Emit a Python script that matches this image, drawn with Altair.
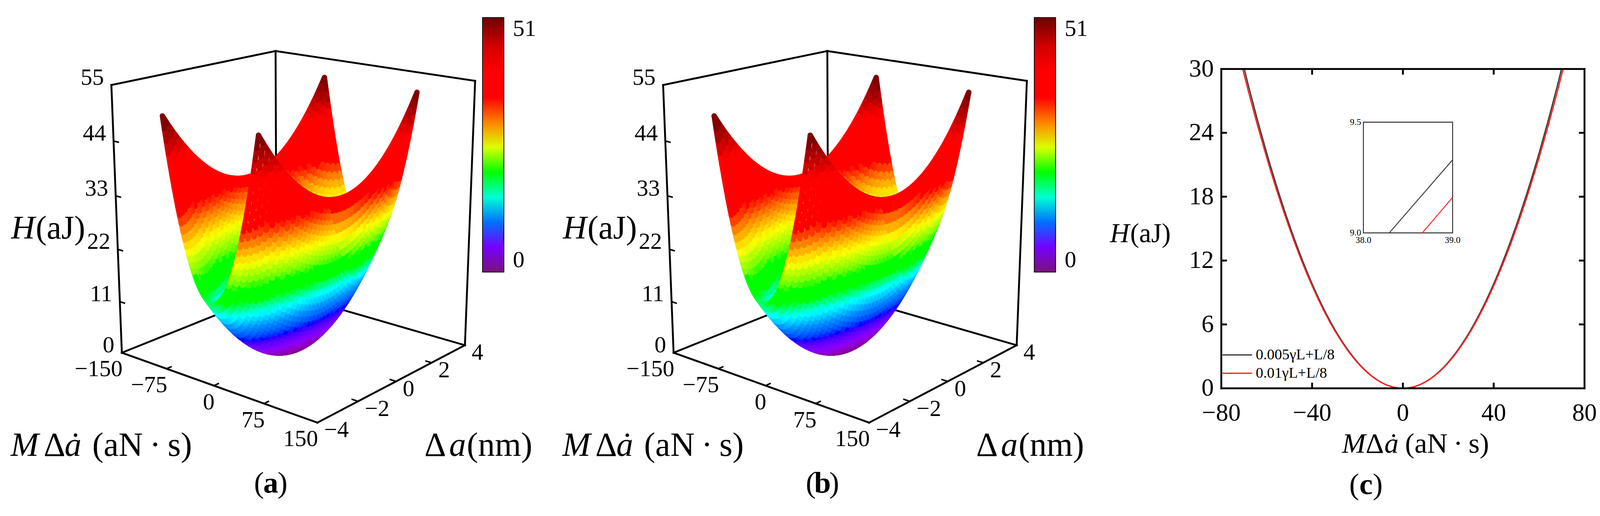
import altair as alt
import numpy as np
import pandas as pd

# ---------------- values ----------------
# (a) and (b): the H surface over MΔȧ (aN·s) and Δa (nm),
# H along MΔȧ at Δa = 0 and the rise of H along Δa at MΔȧ = 0
MDA_GRID = [-70, -67.5, -65, -62.5, -60, -57.5, -55, -52.5, -50, -47.5, -45, -42.5,
            -40, -37.5, -35, -32.5, -30, -27.5, -25, -22.5, -20, -17.5, -15, -12.5, -10, -7.5,
            -5, -2.5, 0, 2.5, 5, 7.5, 10, 12.5, 15, 17.5, 20, 22.5, 25, 27.5, 30, 32.5, 35,
            37.5, 40, 42.5, 45, 47.5, 50, 52.5, 55, 57.5, 60, 62.5, 65, 67.5, 70]
H_ALONG_MDA = [34.30, 31.89, 29.58, 27.34, 25.20, 23.14, 21.18, 19.29, 17.50, 15.79, 14.18, 12.64,
               11.20, 9.84, 8.58, 7.39, 6.30, 5.29, 4.38, 3.54, 2.80, 2.14, 1.58, 1.09, 0.70, 0.39,
               0.18, 0.04, 0.00, 0.04, 0.18, 0.39, 0.70, 1.09, 1.58, 2.14, 2.80, 3.54, 4.38, 5.29,
               6.30, 7.39, 8.58, 9.84, 11.20, 12.64, 14.18, 15.79, 17.50, 19.29, 21.18, 23.14,
               25.20, 27.34, 29.58, 31.89, 34.30]
DA_GRID = [-4.0, -3.8, -3.6, -3.4, -3.2, -3.0, -2.8, -2.6, -2.4, -2.2, -2.0, -1.8, -1.6, -1.4,
           -1.2, -1.0, -0.8, -0.6, -0.4, -0.2, 0.0, 0.2, 0.4, 0.6, 0.8, 1.0, 1.2, 1.4, 1.6, 1.8,
           2.0, 2.2, 2.4, 2.6, 2.8, 3.0, 3.2, 3.4, 3.6, 3.8, 4.0]
H_ALONG_DA = [16.64, 15.02, 13.48, 12.02, 10.65, 9.36, 8.15, 7.03, 5.99, 5.03, 4.16, 3.37, 2.66,
              2.04, 1.50, 1.04, 0.67, 0.37, 0.17, 0.04, 0.00, 0.04, 0.17, 0.37, 0.67, 1.04, 1.50,
              2.04, 2.66, 3.37, 4.16, 5.03, 5.99, 7.03, 8.15, 9.36, 10.65, 12.02, 13.48, 15.02, 16.64]
H_TICKS = [0, 11, 22, 33, 44, 55]
MDA_TICKS = [-150, -75, 0, 75, 150]
DA_TICKS = [-4, -2, 0, 2, 4]
COLORBAR_TICKS = [0, 51]

# (c): H against MΔȧ for the two cases, and the zoomed inset
SERIES = ["0.005γL+L/8", "0.01γL+L/8"]
MDA_C = [-72, -68, -64, -60, -56, -52, -48, -44, -40, -36, -32, -28, -24, -20, -16, -12, -8, -4,
         0, 4, 8, 12, 16, 20, 24, 28, 32, 36, 40, 44, 48, 52, 56, 60, 64, 68, 72]
H_C_BLACK = [31.83, 28.39, 25.15, 22.10, 19.26, 16.60, 14.15, 11.89, 9.82, 7.96, 6.29, 4.81,
             3.54, 2.46, 1.57, 0.88, 0.39, 0.10, 0.00, 0.10, 0.39, 0.88, 1.57, 2.46, 3.54,
             4.81, 6.29, 7.96, 9.82, 11.89, 14.15, 16.60, 19.26, 22.10, 25.15, 28.39, 31.83]
H_C_RED = [31.21, 27.84, 24.66, 21.67, 18.88, 16.28, 13.87, 11.65, 9.63, 7.80, 6.16, 4.72,
           3.47, 2.41, 1.54, 0.87, 0.39, 0.10, 0.00, 0.10, 0.39, 0.87, 1.54, 2.41, 3.47,
           4.72, 6.16, 7.80, 9.63, 11.65, 13.87, 16.28, 18.88, 21.67, 24.66, 27.84, 31.21]
C_X_TICKS = [-80, -40, 0, 40, 80]
C_Y_TICKS = [0, 6, 12, 18, 24, 30]
INSET_X_TICKS = [38.0, 39.0]
INSET_Y_TICKS = [9.0, 9.5]
INSET_BLACK_X = [38.29, 39.0]
INSET_BLACK_H = [9.0, 9.33]
INSET_RED_X = [38.66, 39.0]
INSET_RED_H = [9.0, 9.16]

# ---------------- styling / layout ----------------
SERIF = "Liberation Serif"
SERIES_COLORS = ["#3c3c3c", "#ff2020"]
CMAP_STOPS = [0, 0.08, 0.15, 0.22, 0.28, 0.31, 0.34, 0.41, 0.47, 0.51, 0.57, 0.62, 0.65, 0.84, 0.92, 1.0]
CMAP_COLORS = ["#7a137a", "#8a00ff", "#0000ff", "#0090ff", "#00ffff", "#00ff90", "#00ff00", "#00ff00",
               "#b4ff00", "#ffff00", "#ffa000", "#ff4000", "#ff0000", "#ff0000", "#b40000", "#6e0000"]

A_W, B_W, PANEL_H = 1472, 1778, 1305
C_W, C_H, C_TOP = 969, 852, 142
# where the inset frame sits inside (c), in the main axis units
INSET_AT_X = [-17.4, 21.9]
INSET_AT_H = [14.6, 25.0]

# camera for the 3-D box
AZ, EL = np.radians(40), np.radians(17)
DIST, ZOOM = 3600.0, 1.03
LX, LY, LZ = 333.5, 314.0, 720.0
CX, CY = 777.5, 544.5
ca, sa, ce, se = np.cos(AZ), np.sin(AZ), np.cos(EL), np.sin(EL)

ONE = pd.DataFrame({"k": [0]})


def project(ch, s):
    X = f"datum.x{s}*{LX / MDA_TICKS[-1]:.6f}"
    Y = f"datum.y{s}*{LY / DA_TICKS[-1]:.6f}"
    return ch.transform_calculate(**{
        f"r{s}": f"{X}*{ca:.6f}+{Y}*{sa:.6f}",
        f"q{s}": f"{X}*{sa:.6f}-{Y}*{ca:.6f}",
        f"z{s}": f"(datum.h{s}/{H_TICKS[-1]}-0.5)*{LZ}",
    }).transform_calculate(**{
        f"w{s}": f"datum.q{s}*{ce:.6f}+datum.z{s}*{se:.6f}",
        f"u{s}": f"datum.z{s}*{ce:.6f}-datum.q{s}*{se:.6f}",
    }).transform_calculate(**{
        f"px{s}": f"{ZOOM}*datum.r{s}*{DIST}/({DIST}-datum.w{s})",
        f"py{s}": f"{ZOOM}*datum.u{s}*{DIST}/({DIST}-datum.w{s})",
    })


def text(t, x, y, size, align="left", style="normal", weight="normal"):
    return alt.Chart(ONE).mark_text(
        text=t, font=SERIF, fontSize=size, align=align, fontStyle=style,
        fontWeight=weight, baseline="alphabetic", color="black",
    ).encode(x=alt.value(x), y=alt.value(y))


def fmt(v):
    return str(v).replace("-", "\u2212")


# surface segments along both grid directions
rows = []
for da, hd in zip(DA_GRID, H_ALONG_DA):
    for i in range(len(MDA_GRID) - 1):
        rows.append(dict(xa=MDA_GRID[i], ya=da, ha=H_ALONG_MDA[i] + hd,
                         xb=MDA_GRID[i + 1], yb=da, hb=H_ALONG_MDA[i + 1] + hd))
for m, hm in zip(MDA_GRID, H_ALONG_MDA):
    for j in range(len(DA_GRID) - 1):
        rows.append(dict(xa=m, ya=DA_GRID[j], ha=hm + H_ALONG_DA[j],
                         xb=m, yb=DA_GRID[j + 1], hb=hm + H_ALONG_DA[j + 1]))
seg_df = pd.DataFrame(rows).round(3)
seg_df["hm"] = ((seg_df.ha + seg_df.hb) / 2).round(3)

x0, x1 = MDA_TICKS[0], MDA_TICKS[-1]
y0, y1 = DA_TICKS[0], DA_TICKS[-1]
h0, h1 = H_TICKS[0], H_TICKS[-1]
edge_pts = [((x0, y0, h0), (x1, y0, h0)), ((x1, y0, h0), (x1, y1, h0)),
            ((x1, y1, h0), (x0, y1, h0)), ((x0, y1, h0), (x0, y0, h0)),
            ((x0, y0, h0), (x0, y0, h1)), ((x0, y1, h0), (x0, y1, h1)),
            ((x1, y1, h0), (x1, y1, h1)), ((x0, y0, h1), (x0, y1, h1)),
            ((x0, y1, h1), (x1, y1, h1))]
edge_df = pd.DataFrame([dict(xa=a[0], ya=a[1], ha=a[2], xb=b[0], yb=b[1], hb=b[2]) for a, b in edge_pts])

tl_x = 0.03 * (x1 - x0)
tl_y = 0.03 * (y1 - y0)
tick_df = pd.DataFrame(
    [dict(xa=x0, ya=y0, ha=t, xb=x0 + tl_x, yb=y0, hb=t) for t in H_TICKS[1:-1]]
    + [dict(xa=t, ya=y0, ha=h0, xb=t, yb=y0 + tl_y, hb=h0) for t in MDA_TICKS[1:-1]]
    + [dict(xa=x1, ya=t, ha=h0, xb=x1 - tl_x, yb=t, hb=h0) for t in DA_TICKS[1:-1]]
)

h_lab = pd.DataFrame(dict(xa=x0, ya=y0, ha=H_TICKS, label=[fmt(v) for v in H_TICKS]))
m_lab = pd.DataFrame(dict(xa=MDA_TICKS, ya=y0, ha=h0, label=[fmt(v) for v in MDA_TICKS]))
d_lab = pd.DataFrame(dict(xa=x1, ya=DA_TICKS, ha=h0, label=[fmt(v) for v in DA_TICKS]))

cscale = alt.Scale(domain=[s * COLORBAR_TICKS[-1] for s in CMAP_STOPS], range=CMAP_COLORS)


def surface_panel(width, letter):
    sx = alt.Scale(domain=[-CX, width - CX], nice=False, zero=False)
    sy = alt.Scale(domain=[CY - PANEL_H, CY], nice=False, zero=False)
    enc = dict(x=alt.X("pxa:Q", scale=sx, axis=None), y=alt.Y("pya:Q", scale=sy, axis=None),
               x2="pxb:Q", y2="pyb:Q")
    edges = project(project(alt.Chart(edge_df), "a"), "b").mark_rule(
        strokeWidth=5, strokeCap="square", color="black").encode(**enc)
    surf = project(project(alt.Chart(seg_df), "a"), "b").transform_calculate(
        depth="(datum.wa+datum.wb)/2"
    ).mark_rule(strokeWidth=14, strokeCap="round").encode(
        **enc,
        color=alt.Color("hm:Q", scale=cscale, legend=alt.Legend(
            orient="none", legendX=1279, legendY=5, direction="vertical",
            gradientLength=679, gradientThickness=57, values=COLORBAR_TICKS,
            labelFontSize=62, labelFont=SERIF, labelColor="black", labelOffset=24,
            gradientStrokeColor="black", gradientStrokeWidth=2, title=None, padding=0)),
        order=alt.Order("depth:Q"),
    )
    ticks = project(project(alt.Chart(tick_df), "a"), "b").mark_rule(
        strokeWidth=4, color="black").encode(**enc)
    tenc = dict(x=alt.X("pxa:Q", scale=sx, axis=None), y=alt.Y("pya:Q", scale=sy, axis=None),
                text="label:N")
    lab_style = dict(font=SERIF, fontSize=62, color="black", baseline="middle")
    hl = project(alt.Chart(h_lab), "a").mark_text(align="right", dx=-20, dy=-20, **lab_style).encode(**tenc)
    ml = project(alt.Chart(m_lab), "a").mark_text(align="right", dx=2, dy=44, **lab_style).encode(**tenc)
    dl = project(alt.Chart(d_lab), "a").mark_text(align="left", dx=18, dy=20, **lab_style).encode(**tenc)
    titles = [
        text("H", 85, 595, 88, align="right", style="italic"),
        text("(aJ)", 87, 595, 88),
        text("M", 20, 1174, 90, style="italic"),
        text("Δ", 108, 1174, 90),
        text("ȧ", 164, 1174, 90, style="italic"),
        text("(aN\u2009·\u2009s)", 238, 1174, 90),
        text("Δ", 1124, 1174, 90),
        text("a", 1190, 1174, 90, style="italic"),
        text("(nm)", 1237, 1174, 90),
        text("(", 696, 1272, 80, align="right"),
        text(letter, 714, 1272, 80, align="center", weight="bold"),
        text(")", 732, 1272, 80),
    ]
    return alt.layer(edges, surf, ticks, hl, ml, dl, *titles).properties(width=width, height=PANEL_H)


# ---------------- panel (c) ----------------
n = len(MDA_C)
curve_df = pd.DataFrame({"MDA": MDA_C * 2, "H": H_C_BLACK + H_C_RED,
                         "series": [SERIES[0]] * n + [SERIES[1]] * n})
xs = alt.Scale(domain=[C_X_TICKS[0], C_X_TICKS[-1]], nice=False, zero=False)
ys = alt.Scale(domain=[C_Y_TICKS[0], C_Y_TICKS[-1]], nice=False, zero=False)
col = alt.Color("series:N", scale=alt.Scale(domain=SERIES, range=SERIES_COLORS), legend=None)

curves = alt.Chart(curve_df).mark_line(strokeWidth=3.5, clip=True, interpolate="monotone").encode(
    x=alt.X("MDA:Q", scale=xs, axis=None),
    y=alt.Y("H:Q", scale=ys, axis=None),
    color=col,
)
xt = pd.DataFrame({"t": C_X_TICKS, "label": [fmt(v) for v in C_X_TICKS]})
yt = pd.DataFrame({"t": C_Y_TICKS, "label": [fmt(v) for v in C_Y_TICKS]})
xt_in = xt.iloc[1:-1]
yt_in = yt.iloc[1:-1]
TL = 15
rule = dict(strokeWidth=5, color="black")
tick_b = alt.Chart(xt_in).mark_rule(**rule).encode(
    x=alt.X("t:Q", scale=xs, axis=None), y=alt.value(C_H), y2=alt.value(C_H - TL))
tick_t = alt.Chart(xt_in).mark_rule(**rule).encode(
    x=alt.X("t:Q", scale=xs, axis=None), y=alt.value(0), y2=alt.value(TL))
tick_l = alt.Chart(yt_in).mark_rule(**rule).encode(
    y=alt.Y("t:Q", scale=ys, axis=None), x=alt.value(0), x2=alt.value(TL))
tick_r = alt.Chart(yt_in).mark_rule(**rule).encode(
    y=alt.Y("t:Q", scale=ys, axis=None), x=alt.value(C_W), x2=alt.value(C_W - TL))
frame = [
    alt.Chart(ONE).mark_rule(strokeCap="square", **rule).encode(
        x=alt.value(0), x2=alt.value(C_W), y=alt.value(0)),
    alt.Chart(ONE).mark_rule(strokeCap="square", **rule).encode(
        x=alt.value(0), x2=alt.value(C_W), y=alt.value(C_H)),
    alt.Chart(ONE).mark_rule(strokeCap="square", **rule).encode(
        x=alt.value(0), y=alt.value(0), y2=alt.value(C_H)),
    alt.Chart(ONE).mark_rule(strokeCap="square", **rule).encode(
        x=alt.value(C_W), y=alt.value(0), y2=alt.value(C_H)),
]
lab_c = dict(font=SERIF, fontSize=66, color="black")
x_labels = alt.Chart(xt).mark_text(align="center", baseline="top", **lab_c).encode(
    x=alt.X("t:Q", scale=xs, axis=None), y=alt.value(C_H + 34), text="label:N")
y_labels = alt.Chart(yt).mark_text(align="right", baseline="middle", **lab_c).encode(
    y=alt.Y("t:Q", scale=ys, axis=None), x=alt.value(-20), text="label:N")


# inset, placed inside the main frame
def inset_map(field, lims, at):
    return (f"({at[0]})+(datum.{field}-({lims[0]}))/(({lims[-1]})-({lims[0]}))"
            f"*(({at[1]})-({at[0]}))")


def inset_chart(df):
    return alt.Chart(df).transform_calculate(
        mx=inset_map("X", INSET_X_TICKS, INSET_AT_X), mh=inset_map("H", INSET_Y_TICKS, INSET_AT_H))


inset_box = pd.DataFrame({"X": [INSET_X_TICKS[0]], "H": [INSET_Y_TICKS[0]],
                          "X2": [INSET_X_TICKS[-1]], "H2": [INSET_Y_TICKS[-1]]})
inset_frame = inset_chart(inset_box).transform_calculate(
    mx2=inset_map("X2", INSET_X_TICKS, INSET_AT_X), mh2=inset_map("H2", INSET_Y_TICKS, INSET_AT_H),
).mark_rect(fill="white", stroke="black", strokeWidth=2).encode(
    x=alt.X("mx:Q", scale=xs, axis=None), x2="mx2:Q",
    y=alt.Y("mh:Q", scale=ys, axis=None), y2="mh2:Q")
inset_df = pd.DataFrame({"X": INSET_BLACK_X + INSET_RED_X, "H": INSET_BLACK_H + INSET_RED_H,
                         "series": [SERIES[0]] * 2 + [SERIES[1]] * 2})
inset_lines = inset_chart(inset_df).mark_line(strokeWidth=2.5).encode(
    x=alt.X("mx:Q", scale=xs, axis=None), y=alt.Y("mh:Q", scale=ys, axis=None), color=col)
iy_lab = pd.DataFrame({"X": INSET_X_TICKS[0], "H": INSET_Y_TICKS,
                       "label": [f"{v:.1f}" for v in INSET_Y_TICKS]})
ix_lab = pd.DataFrame({"X": INSET_X_TICKS, "H": INSET_Y_TICKS[0],
                       "label": [f"{v:.1f}" for v in INSET_X_TICKS]})
in_txt = dict(font=SERIF, fontSize=24, color="black")
inset_ylab = inset_chart(iy_lab).mark_text(align="right", baseline="middle", dx=-6, **in_txt).encode(
    x=alt.X("mx:Q", scale=xs, axis=None), y=alt.Y("mh:Q", scale=ys, axis=None), text="label:N")
inset_xlab = inset_chart(ix_lab).mark_text(align="center", baseline="top", dy=8, **in_txt).encode(
    x=alt.X("mx:Q", scale=xs, axis=None), y=alt.Y("mh:Q", scale=ys, axis=None), text="label:N")

legend_marks = []
for i, (name, colr) in enumerate(zip(SERIES, SERIES_COLORS)):
    yy = 763 + 49 * i
    legend_marks.append(alt.Chart(ONE).mark_rule(strokeWidth=3.5, color=colr).encode(
        x=alt.value(3), x2=alt.value(82), y=alt.value(yy)))
    legend_marks.append(alt.Chart(ONE).mark_text(
        text=name, font=SERIF, fontSize=40, align="left", baseline="middle", color="black"
    ).encode(x=alt.value(92), y=alt.value(yy)))

c_titles = [
    text("H", -245, 462, 72, align="right", style="italic"),
    text("(aJ)", -243, 462, 72),
    text("M", 322, 1024, 76, style="italic"),
    text("Δ", 385, 1024, 76),
    text("ȧ", 435, 1024, 76, style="italic"),
    text("(aN\u2009·\u2009s)", 490, 1024, 76),
    text("(", 368, 1134, 80, align="right"),
    text("c", 386, 1134, 80, align="center", weight="bold"),
    text(")", 404, 1134, 80),
]

c_plot = alt.layer(curves, tick_b, tick_t, tick_l, tick_r, *frame, x_labels, y_labels,
                   inset_frame, inset_lines, inset_ylab, inset_xlab,
                   *legend_marks, *c_titles).properties(width=C_W, height=C_H)
spacer = alt.Chart(ONE).mark_text(text="").encode(x=alt.value(0), y=alt.value(0)).properties(
    width=C_W, height=C_TOP)
panel_c = alt.vconcat(spacer, c_plot, spacing=0, bounds="flush")

chart = alt.hconcat(surface_panel(A_W, "a"), surface_panel(B_W, "b"), panel_c,
                    spacing=0, bounds="flush").resolve_scale(
    color="independent").resolve_legend(color="independent").properties(
    padding=0).configure_view(strokeWidth=0)

chart.save("out.html", embed_options={"renderer": "svg", "actions": False})
